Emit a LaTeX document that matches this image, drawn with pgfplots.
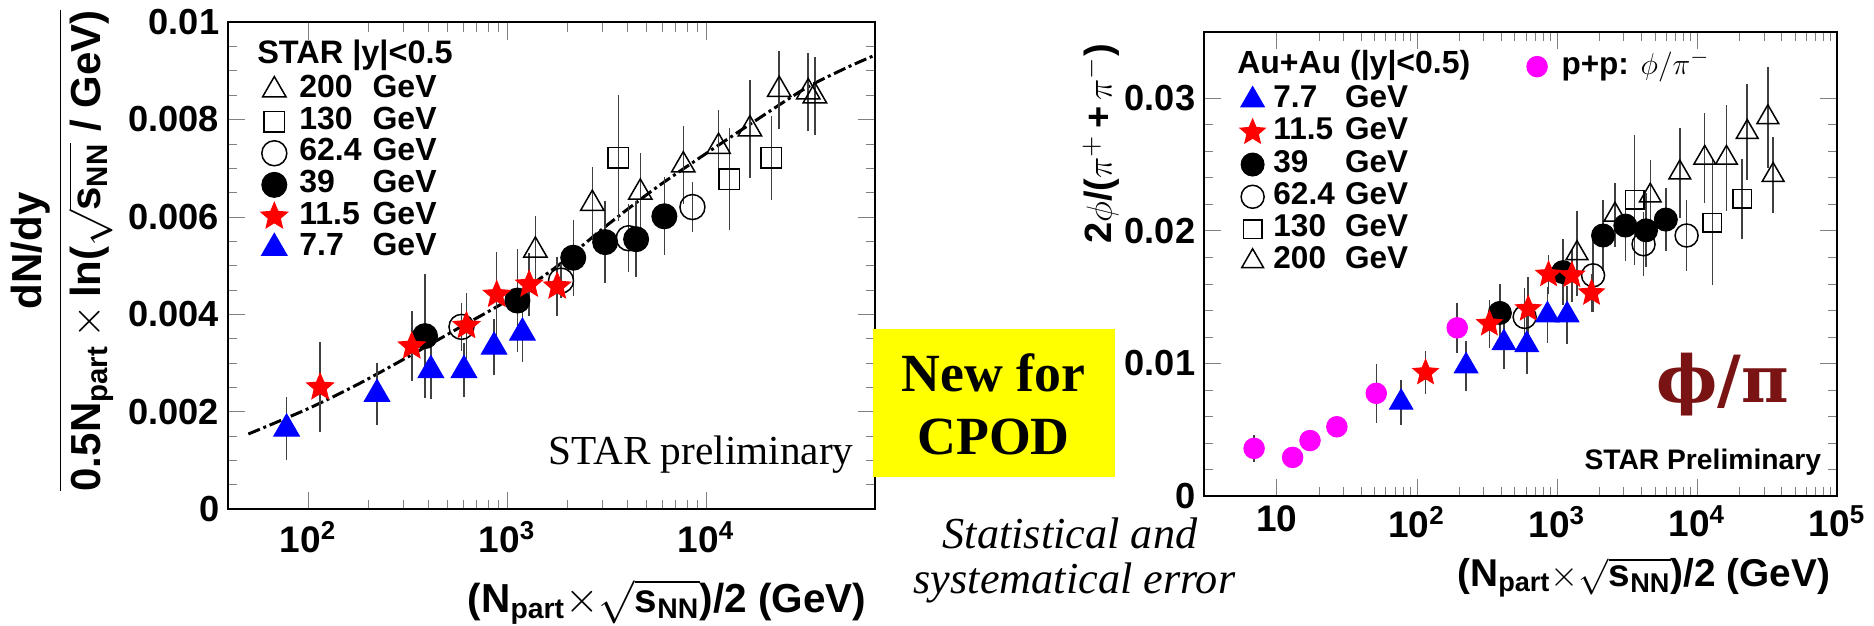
\documentclass[border=0pt]{standalone}
\usepackage{fontspec}
\setmainfont{Liberation Sans}
\newfontfamily\tnr{Liberation Serif}
\newfontfamily\dvs{DejaVu Serif}
\usepackage{pgfplots}
\usepackage{pgfplotstable}
\pgfplotsset{compat=1.18}
\usetikzlibrary{plotmarks}
\definecolor{maroonc}{RGB}{122,20,20}
\definecolor{magc}{RGB}{255,0,255}
\definecolor{yelc}{RGB}{255,255,0}
\definecolor{bluec}{RGB}{0,0,255}
\definecolor{redc}{RGB}{255,0,0}

\pgfdeclareplotmark{fstar}{%
  \pgfpathmoveto{\pgfpointpolar{90}{\pgfplotmarksize}}%
  \pgfpathlineto{\pgfpointpolar{126}{0.45\pgfplotmarksize}}%
  \pgfpathlineto{\pgfpointpolar{162}{\pgfplotmarksize}}%
  \pgfpathlineto{\pgfpointpolar{198}{0.45\pgfplotmarksize}}%
  \pgfpathlineto{\pgfpointpolar{234}{\pgfplotmarksize}}%
  \pgfpathlineto{\pgfpointpolar{270}{0.45\pgfplotmarksize}}%
  \pgfpathlineto{\pgfpointpolar{306}{\pgfplotmarksize}}%
  \pgfpathlineto{\pgfpointpolar{342}{0.45\pgfplotmarksize}}%
  \pgfpathlineto{\pgfpointpolar{18}{\pgfplotmarksize}}%
  \pgfpathlineto{\pgfpointpolar{54}{0.45\pgfplotmarksize}}%
  \pgfpathclose
  \pgfusepathqfillstroke}

% ---------- left panel: dN/dy scaled ----------
\pgfplotstableread{
x y
50.1 0.00154
100 0.00206
177.8 0.00256
316.2 0.00312
562.3 0.00370
1000 0.00428
1778 0.00498
3162 0.00582
5623 0.00660
10000 0.00730
17783 0.00798
31623 0.00864
50119 0.00905
70600 0.00932
}\Lcurve
\pgfplotstableread{
x y e
1387 0.00531 0.00070
2680 0.00627 0.00075
4670 0.00650 0.00080
7680 0.00706 0.00080
11550 0.00744 0.00075
16600 0.00780 0.00100
23300 0.00861 0.00080
32600 0.00856 0.00080
35200 0.00848 0.00080
}\LtwoH
\pgfplotstableread{
x y e
3620 0.00721 0.00130
13100 0.00677 0.00105
21300 0.00721 0.00086
}\LoneT
\pgfplotstableread{
x y e
590 0.00374 0.00050
1866 0.00469 0.00035
4083 0.00556 0.00070
8540 0.00620 0.00052
}\Lsixtwo
\pgfplotstableread{
x y e
387 0.00355 0.00127
1127 0.00428 0.00105
2150 0.00516 0.00078
3110 0.00548 0.00084
4450 0.00554 0.00078
6170 0.00601 0.00080
}\Lthirtynine
\pgfplotstableread{
x y e
115 0.00250 0.00092
332 0.00334 0.00072
625 0.00376 0.00068
887 0.00440 0.00088
1291 0.00461 0.00064
1786 0.00457 0.00060
}\Leleven
\pgfplotstableread{
x y e
78 0.00165 0.00064
222 0.00236 0.00064
414 0.00285 0.00060
607 0.00285 0.00055
860 0.00333 0.00058
1194 0.00362 0.00060
}\Lseven

% ---------- right panel: phi/pi ----------
\pgfplotstableread{
x y e
6.9 0.00359 0.0010
13.0 0.00291 0.0003
17.3 0.00418 0.0003
26.9 0.00522 0.0003
51.4 0.00774 0.0022
194.5 0.01268 0.0019
}\Rpp
\pgfplotstableread{
x y e
77.4 0.00705 0.0017
225 0.0098 0.0019
419 0.01154 0.0020
610 0.0114 0.0022
857 0.01364 0.0021
1185 0.01364 0.0022
}\Rseven
\pgfplotstableread{
x y e
115.6 0.0093 0.0016
330 0.01298 0.0018
625 0.0141 0.0024
873 0.0167 0.0015
1280 0.01664 0.0020
1770 0.0153 0.0014
}\Releven
\pgfplotstableread{
x y e
392 0.0138 0.0022
1107 0.01688 0.0025
2138 0.01964 0.0027
3083 0.02039 0.0027
4335 0.02003 0.0028
5998 0.02084 0.0024
}\Rthirtynine
\pgfplotstableread{
x y e
589 0.0135 0.0022
1815 0.01664 0.0028
4160 0.01898 0.0024
8440 0.01964 0.0027
}\Rsixtwo
\pgfplotstableread{
x y e
3593 0.02234 0.0049
12910 0.0206 0.0047
20980 0.0224 0.0030
}\RoneT
\pgfplotstableread{
x y e
1393 0.0183 0.0032
2600 0.0212 0.0024
4645 0.02264 0.0027
7550 0.02438 0.0034
11370 0.02549 0.0034
16250 0.02549 0.0040
22860 0.02744 0.0036
32100 0.02855 0.0038
35000 0.0242 0.0029
}\RtwoH

\begin{document}
\begin{tikzpicture}[x=1pt,y=1pt]
\useasboundingbox (0pt,0pt) rectangle (749.6pt,250pt);

% ================= LEFT AXIS =================
\begin{axis}[scale only axis, xmode=log, tick align=inside,
  major tick length=7pt, minor tick length=3.8pt,
  axis line style={line width=0.8pt},
  yticklabel style={font=\fontsize{14.5}{16}\selectfont\bfseries},
  xticklabel style={font=\fontsize{14.8}{16}\selectfont\bfseries, yshift=-1.5pt},
  scaled y ticks=false, legend cell align=left, enlargelimits=false,
  legend image code/.code={\draw[mark repeat=2,mark phase=2,#1] plot coordinates {(0pt,0pt)(6pt,0pt)(12pt,0pt)};},
  at={(91.2pt,46.4pt)}, anchor=south west,
  width=258.8pt, height=194.8pt,
  xmin=39.6, xmax=70600, ymin=0, ymax=0.01,
  xtick={100,1000,10000},
  xticklabels={10\textsuperscript{2},10\textsuperscript{3},10\textsuperscript{4}},
  ytick={0,0.002,0.004,0.006,0.008,0.01},
  yticklabels={0,0.002,0.004,0.006,0.008,0.01},
  minor y tick num=3,
  ylabel={$\displaystyle\frac{\mbox{\bfseries dN/dy}}{\mbox{\bfseries 0.5N\textsubscript{part}}\,{\times}\,\mbox{\bfseries ln(}\sqrt{\mbox{\bfseries s\textsubscript{NN}}}\mbox{\bfseries\ / GeV)}}$},
  ylabel style={at={(axis description cs:-0.2558,0.53)}, anchor=center, font=\fontsize{16.8}{18}\selectfont},
  xlabel={\bfseries (N\textsubscript{part}$\times$$\sqrt{\mbox{\bfseries s\textsubscript{NN}}}$)/2 (GeV)},
  xlabel style={at={(axis description cs:1,-0.2115)}, anchor=base east, font=\fontsize{16.2}{18}\selectfont},
  legend style={at={(0.051,0.8927)}, anchor=north west, draw=none, fill=none,
    inner sep=0pt, outer sep=0pt, row sep=0pt, column sep=4.7pt,
    font=\fontsize{12.8}{14}\selectfont\bfseries,
    nodes={inner sep=0pt, text height=9.4pt, text depth=3.24pt}},
]
\addplot[black, line width=1.2pt, dash pattern=on 5pt off 1.5pt on 1.2pt off 1.5pt, smooth, forget plot] table[x=x,y=y]{\Lcurve};
\addplot[only marks, black, mark=triangle, mark size=5.4pt, mark options={line width=0.6pt},
  error bars/.cd, y dir=both, y explicit, error mark=none, error bar style={line width=0.6pt, black!75}] table[x=x,y=y,y error=e]{\LtwoH};
\addlegendentry{\makebox[29.3pt][l]{200}GeV}
\addplot[only marks, black, mark=square, mark size=4.1pt, mark options={line width=0.6pt},
  error bars/.cd, y dir=both, y explicit, error mark=none, error bar style={line width=0.6pt, black!75}] table[x=x,y=y,y error=e]{\LoneT};
\addlegendentry{\makebox[29.3pt][l]{130}GeV}
\addplot[only marks, black, mark=o, mark size=5pt, mark options={line width=0.6pt},
  error bars/.cd, y dir=both, y explicit, error mark=none, error bar style={line width=0.6pt, black!75}] table[x=x,y=y,y error=e]{\Lsixtwo};
\addlegendentry{\makebox[29.3pt][l]{62.4}GeV}
\addplot[only marks, black, mark=*, mark size=5pt,
  error bars/.cd, y dir=both, y explicit, error mark=none, error bar style={line width=0.6pt, black!75}] table[x=x,y=y,y error=e]{\Lthirtynine};
\addlegendentry{\makebox[29.3pt][l]{39}GeV}
\addplot[only marks, redc, mark=fstar, mark size=5.6pt,
  error bars/.cd, y dir=both, y explicit, error mark=none, error bar style={line width=0.6pt, black!75}] table[x=x,y=y,y error=e]{\Leleven};
\addlegendentry{\makebox[29.3pt][l]{11.5}GeV}
\addplot[only marks, bluec, mark=triangle*, mark size=5.9pt,
  error bars/.cd, y dir=both, y explicit, error mark=none, error bar style={line width=0.6pt, black!75}] table[x=x,y=y,y error=e]{\Lseven};
\addlegendentry{\makebox[29.3pt][l]{7.7}GeV}
\end{axis}

% ================= RIGHT AXIS =================
\begin{axis}[scale only axis, xmode=log, tick align=inside,
  major tick length=7pt, minor tick length=3.8pt,
  axis line style={line width=0.8pt},
  yticklabel style={font=\fontsize{14.5}{16}\selectfont\bfseries},
  xticklabel style={font=\fontsize{14.8}{16}\selectfont\bfseries, yshift=-0.5pt},
  scaled y ticks=false, legend cell align=left, enlargelimits=false,
  legend image code/.code={\draw[mark repeat=2,mark phase=2,#1] plot coordinates {(0pt,0pt)(6pt,0pt)(12pt,0pt)};},
  at={(481.6pt,51.6pt)}, anchor=south west,
  width=253.2pt, height=185.7pt,
  xmin=3.03, xmax=100000, ymin=0, ymax=0.035,
  xtick={10,100,1000,10000,100000},
  xticklabels={10,10\textsuperscript{2},10\textsuperscript{3},10\textsuperscript{4},10\textsuperscript{5}},
  ytick={0,0.01,0.02,0.03},
  yticklabels={0,0.01,0.02,0.03},
  minor y tick num=4,
  xlabel={\bfseries (N\textsubscript{part}$\times$$\sqrt{\mbox{\bfseries s\textsubscript{NN}}}$)/2 (GeV)},
  xlabel style={at={(axis description cs:1.003,-0.1939)}, anchor=base east, font=\fontsize{15.5}{17}\selectfont},
  reverse legend,
  legend style={at={(0.0569,0.8877)}, anchor=north west, draw=none, fill=none,
    inner sep=0pt, outer sep=0pt, row sep=0pt, column sep=3.3pt,
    font=\fontsize{12.6}{14}\selectfont\bfseries,
    nodes={inner sep=0pt, text height=9.5pt, text depth=3.4pt}},
]
\addplot[only marks, black, mark=triangle, mark size=5pt, mark options={line width=0.6pt},
  error bars/.cd, y dir=both, y explicit, error mark=none, error bar style={line width=0.6pt, black!75}] table[x=x,y=y,y error=e]{\RtwoH};
\addlegendentry{\makebox[28.7pt][l]{200}GeV}
\addplot[only marks, black, mark=square, mark size=3.7pt, mark options={line width=0.6pt},
  error bars/.cd, y dir=both, y explicit, error mark=none, error bar style={line width=0.6pt, black!75}] table[x=x,y=y,y error=e]{\RoneT};
\addlegendentry{\makebox[28.7pt][l]{130}GeV}
\addplot[only marks, black, mark=o, mark size=4.6pt, mark options={line width=0.6pt},
  error bars/.cd, y dir=both, y explicit, error mark=none, error bar style={line width=0.6pt, black!75}] table[x=x,y=y,y error=e]{\Rsixtwo};
\addlegendentry{\makebox[28.7pt][l]{62.4}GeV}
\addplot[only marks, black, mark=*, mark size=4.6pt,
  error bars/.cd, y dir=both, y explicit, error mark=none, error bar style={line width=0.6pt, black!75}] table[x=x,y=y,y error=e]{\Rthirtynine};
\addlegendentry{\makebox[28.7pt][l]{39}GeV}
\addplot[only marks, redc, mark=fstar, mark size=5.3pt,
  error bars/.cd, y dir=both, y explicit, error mark=none, error bar style={line width=0.6pt, black!75}] table[x=x,y=y,y error=e]{\Releven};
\addlegendentry{\makebox[28.7pt][l]{11.5}GeV}
\addplot[only marks, bluec, mark=triangle*, mark size=5.4pt,
  error bars/.cd, y dir=both, y explicit, error mark=none, error bar style={line width=0.6pt, black!75}] table[x=x,y=y,y error=e]{\Rseven};
\addlegendentry{\makebox[28.7pt][l]{7.7}GeV}
\end{axis}

% overlay axis for p+p
\begin{axis}[scale only axis, xmode=log, hide axis, at={(481.6pt,51.6pt)}, anchor=south west,
  width=253.2pt, height=185.7pt,
  xmin=3.03, xmax=100000, ymin=0, ymax=0.035, enlargelimits=false,
  legend image code/.code={\draw[mark repeat=2,mark phase=2,#1] plot coordinates {(0pt,0pt)(6pt,0pt)(12pt,0pt)};},
  legend style={at={(0.51,0.9596)}, anchor=north west, draw=none, fill=none,
    inner sep=0pt, outer sep=0pt, row sep=0pt, column sep=5.7pt,
    font=\fontsize{12.6}{14}\selectfont\bfseries,
    nodes={inner sep=0pt, text height=9.5pt, text depth=3.4pt}},
]
\addplot[only marks, magc, mark=*, mark size=4.1pt,
  error bars/.cd, y dir=both, y explicit, error mark=none, error bar style={line width=0.6pt, black!75}] table[x=x,y=y,y error=e]{\Rpp};
\addlegendentry{p+p: $\phi/\pi^{-}$}
\end{axis}

% ---------- free texts ----------
\node[rotate=90, anchor=center, inner sep=0pt, font=\fontsize{15.2}{17}\selectfont] at (440.4pt,192.4pt)
  {$\mbox{\bfseries 2}\phi\mbox{\bfseries /(}\pi^{+}\,\mbox{\bfseries +}\,\pi^{-}\mbox{\bfseries )}$};
\node[anchor=west, inner sep=0pt, font=\fontsize{13}{15}\selectfont\bfseries] at (102.7pt,228pt) {STAR |y|<0.5};
\node[anchor=west, inner sep=0pt, font=\fontsize{12.8}{15}\selectfont\bfseries] at (494.7pt,224pt) {Au+Au (|y|<0.5)};
\node[anchor=base west, inner sep=0pt, font=\tnr\fontsize{16.5}{18}\selectfont] at (219.2pt,64.4pt) {STAR preliminary};
\node[anchor=west, inner sep=0pt, font=\fontsize{11.3}{13}\selectfont\bfseries] at (633.6pt,65.2pt) {STAR Preliminary};
\node[anchor=base, inner sep=0pt, text=maroonc, font=\dvs\bfseries\fontsize{26}{28}\selectfont] at (689.2pt,89pt) {ϕ/π};

\node[fill=yelc, minimum width=96.8pt, minimum height=59.2pt, inner sep=0pt] at (397.6pt,88.8pt) {};
\node[anchor=base, inner sep=0pt, font=\tnr\bfseries\fontsize{21.5}{24}\selectfont] at (397.4pt,93.3pt) {New for};
\node[anchor=base, inner sep=0pt, font=\tnr\bfseries\fontsize{21.5}{24}\selectfont] at (397.4pt,68.4pt) {CPOD};

\node[anchor=base, inner sep=0pt, font=\tnr\itshape\fontsize{17.7}{20}\selectfont] at (428pt,30.8pt) {Statistical and};
\node[anchor=base, inner sep=0pt, font=\tnr\itshape\fontsize{17.7}{20}\selectfont] at (429.8pt,12.8pt) {systematical error};
\end{tikzpicture}
\end{document}
